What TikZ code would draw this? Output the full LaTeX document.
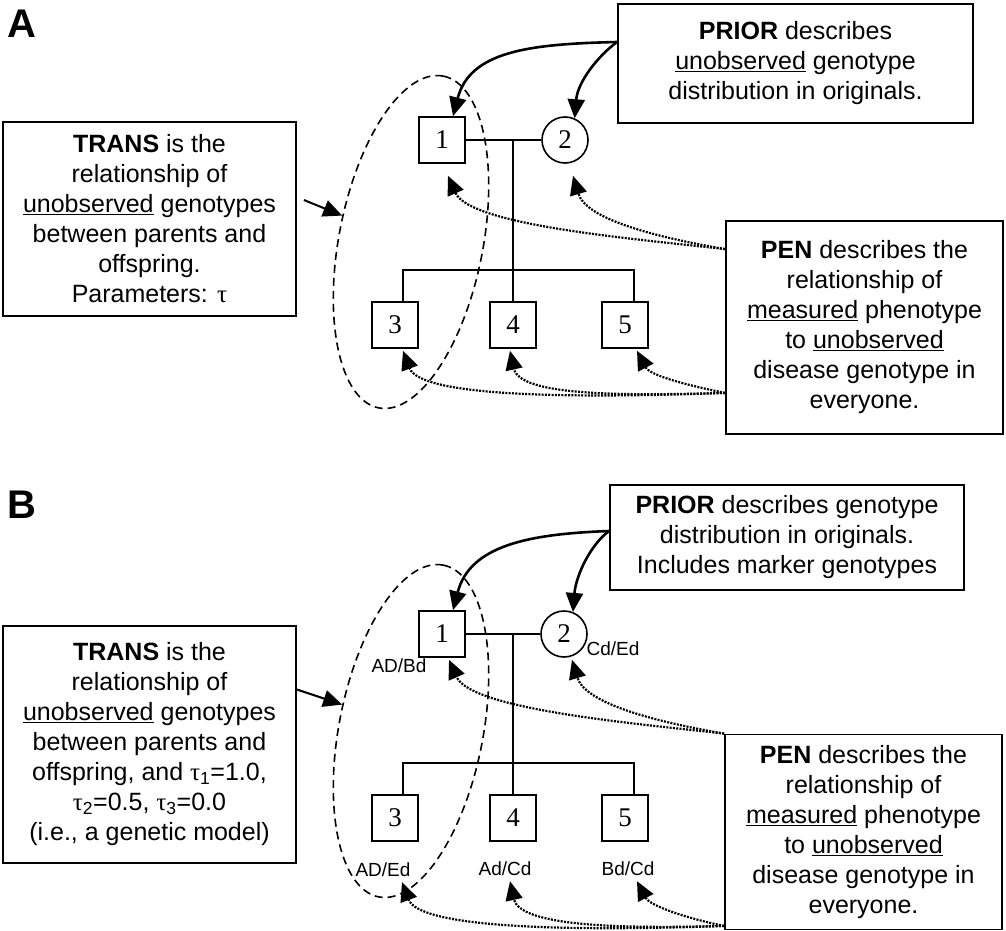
\documentclass[tikz,border=0pt]{standalone}
\usepackage{fontspec}
\setmainfont{Liberation Sans}
\newfontfamily\numfont{Liberation Serif}
\usepackage{tikz}
\usetikzlibrary{arrows.meta,shapes.geometric}

\begin{document}
\begin{tikzpicture}[x=1pt, y=-1pt, >={Triangle[length=19pt,width=17pt]},
  every node/.style={align=center, font=\fontsize{25}{30}\selectfont},
  box/.style={draw, line width=1.8pt, inner sep=0pt},
  person/.style={draw, line width=1.6pt, minimum size=46pt, inner sep=0pt,
                 font=\numfont\fontsize{27}{27}\selectfont},
  geno/.style={inner sep=1pt, font=\fontsize{19}{19}\selectfont},
  panel/.style={anchor=north west, inner sep=0pt, font=\bfseries\fontsize{40}{40}\selectfont},
  oval/.style={draw, ellipse, dash pattern=on 8pt off 5pt, line width=1.6pt,
               minimum width=338pt, minimum height=144pt, inner sep=0pt, rotate=79},
  prior/.style={->, line width=2.6pt},
  pen/.style={->, line width=2.2pt, dash pattern=on 2pt off 1.3pt},
  trans/.style={->, line width=2pt},
  pedline/.style={line width=1.6pt}]
  \useasboundingbox (0,0) rectangle (1006,931);

  % ---------------- panel A ----------------
  \node[panel] (labA) at (7,10) {A};

  \node[box, minimum width=293pt, minimum height=194pt] (trA) at (149.5,219)
       {\textbf{TRANS} is the\\relationship of\\\underline{unobserved} genotypes\\between parents and\\offspring.\\Parameters: {\numfont τ}};
  \node[box, minimum width=355pt, minimum height=119pt] (priorA) at (795.5,63.5)
       {\textbf{PRIOR} describes\\\underline{unobserved} genotype\\distribution in originals.};
  \node[box, minimum width=277pt, minimum height=213pt] (penA) at (864.5,327.5)
       {\textbf{PEN} describes the\\relationship of\\\underline{measured} phenotype\\to \underline{unobserved}\\disease genotype in\\everyone.};

  \node[oval] (ovA) at (411,242) {};

  \node[person] (b1A) at (442,140) {1};
  \node[person, circle] (c2A) at (565,140) {2};
  \node[person] (b3A) at (395,325) {3};
  \node[person] (b4A) at (513,325) {4};
  \node[person] (b5A) at (625,325) {5};

  \draw[pedline] (b1A) -- (c2A);
  \draw[pedline] (b4A.north) -- (b4A.north |- b1A.east);
  \draw[pedline] ([xshift=8pt]b3A.north) -- ++(0,-31) -| ([xshift=9pt]b5A.north);

  \draw[trans] ([xshift=7pt,yshift=19pt]trA.east) -- (ovA.80);

  \draw[prior] ([yshift=21.5pt]priorA.west) .. controls +(-88,2) and +(17,-65) .. ([xshift=11pt]b1A.north);
  \draw[prior] ([yshift=21.5pt]priorA.west) .. controls +(-18,13) and +(3,-37) .. (c2A.66);

  \draw[pen] ([yshift=-29pt]penA.north west) .. controls +(-87,-10) and +(22,50) .. ([xshift=6pt,yshift=-12pt]b1A.south);
  \draw[pen] ([yshift=-29pt]penA.north west) .. controls +(-87,-15) and +(12,40) .. ([xshift=8pt,yshift=-12pt]c2A.south);
  \draw[pen] ([yshift=42pt]penA.south west) .. controls +(-35,-7) and +(13,25) .. ([xshift=12pt,yshift=-2pt]b5A.south);
  \draw[pen] ([yshift=42pt]penA.south west) .. controls +(-105,3) and +(10,45) .. ([xshift=-3pt,yshift=-2pt]b4A.south);
  \draw[pen] ([yshift=42pt]penA.south west) .. controls +(-165,6) and +(17,45) .. ([xshift=8pt,yshift=-2pt]b3A.south);

  % ---------------- panel B ----------------
  \node[panel] (labB) at (7,491) {B};

  \node[box, minimum width=293pt, minimum height=237pt] (trB) at (149.5,744.5)
       {\textbf{TRANS} is the\\relationship of\\\underline{unobserved} genotypes\\between parents and\\offspring, and {\numfont τ}\textsubscript{1}=1.0,\\{\numfont τ}\textsubscript{2}=0.5, {\numfont τ}\textsubscript{3}=0.0\\(i.e., a genetic model)};
  \node[box, minimum width=354pt, minimum height=105pt] (priorB) at (787,537.5)
       {\textbf{PRIOR} describes genotype\\distribution in originals.\\Includes marker genotypes};
  \node[box, minimum width=277pt, minimum height=195pt] (penB) at (863.5,832)
       {\textbf{PEN} describes the\\relationship of\\\underline{measured} phenotype\\to \underline{unobserved}\\disease genotype in\\everyone.};

  \node[oval] (ovB) at (411,731) {};

  \node[person] (b1B) at (442,634) {1};
  \node[person, circle] (c2B) at (564,634) {2};
  \node[person] (b3B) at (395,818) {3};
  \node[person] (b4B) at (513,818) {4};
  \node[person] (b5B) at (625,818) {5};

  \node[geno] (g1B) at (399,666) {AD/Bd};
  \node[geno] (g2B) at (613,649) {Cd/Ed};
  \node[geno] (g3B) at (383,870) {AD/Ed};
  \node[geno] (g4B) at (505,869) {Ad/Cd};
  \node[geno] (g5B) at (628,869) {Bd/Cd};

  \draw[pedline] (b1B) -- (c2B);
  \draw[pedline] (b4B.north) -- (b4B.north |- b1B.east);
  \draw[pedline] ([xshift=8pt]b3B.north) -- ++(0,-31) -| ([xshift=9pt]b5B.north);

  \draw[trans] ([yshift=55pt]trB.east) -- (ovB.80);

  \draw[prior] ([yshift=6.5pt]priorB.west) .. controls +(-80,3) and +(17,-65) .. ([xshift=11pt]b1B.north);
  \draw[prior] ([yshift=6.5pt]priorB.west) .. controls +(-18,13) and +(3,-37) .. (c2B.68);

  \draw[pen] (penB.north west) .. controls +(-87,-10) and +(22,50) .. ([xshift=7pt,yshift=-2pt]b1B.south);
  \draw[pen] (penB.north west) .. controls +(-87,-15) and +(12,40) .. ([xshift=8pt,yshift=-2pt]c2B.south);
  \draw[pen] ([yshift=4.5pt]penB.south west) .. controls +(-35,-7) and +(13,25) .. ([xshift=9pt,yshift=-4pt]g5B.south);
  \draw[pen] ([yshift=4.5pt]penB.south west) .. controls +(-105,3) and +(10,45) .. ([xshift=5pt,yshift=-4pt]g4B.south);
  \draw[pen] ([yshift=4.5pt]penB.south west) .. controls +(-165,6) and +(17,45) .. ([xshift=19pt,yshift=-4pt]g3B.south);
\end{tikzpicture}
\end{document}
